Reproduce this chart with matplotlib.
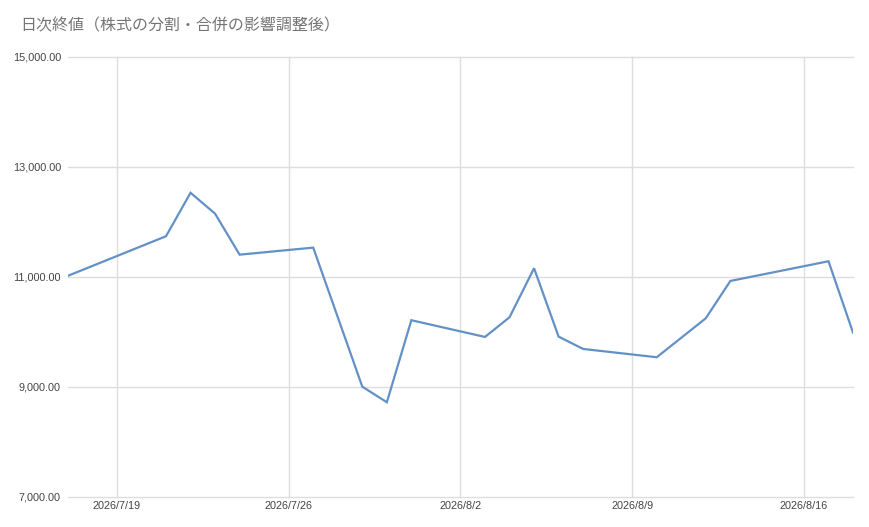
import datetime as dt
import matplotlib
matplotlib.use("Agg")
import matplotlib.pyplot as plt
import matplotlib.dates as mdates
from matplotlib.ticker import FuncFormatter

# データ
dates = ["2026-07-17", "2026-07-21", "2026-07-22", "2026-07-23", "2026-07-24",
         "2026-07-27", "2026-07-29", "2026-07-30", "2026-07-31",
         "2026-08-03", "2026-08-04", "2026-08-05", "2026-08-06", "2026-08-07",
         "2026-08-10", "2026-08-12", "2026-08-13", "2026-08-17", "2026-08-18"]
closes = [11020, 11740, 12530, 12150, 11405,
          11533, 9005, 8722, 10213,
          9909, 10267, 11158, 9915, 9691,
          9540, 10249, 10927, 11285, 9987]
tick_dates = ["2026-07-19", "2026-07-26", "2026-08-02", "2026-08-09", "2026-08-16"]
tick_labels = ["2026/7/19", "2026/7/26", "2026/8/2", "2026/8/9", "2026/8/16"]
y_ticks = [7000, 9000, 11000, 13000, 15000]
title = "日次終値（株式の分割・合併の影響調整後）"

x = [dt.datetime.strptime(d, "%Y-%m-%d") for d in dates]
xt = [dt.datetime.strptime(d, "%Y-%m-%d") for d in tick_dates]

plt.rcParams['font.family'] = ['Liberation Sans', 'Noto Sans CJK JP', 'DejaVu Sans']

fig = plt.figure(figsize=(8.7, 5.27), dpi=100)
ax = fig.add_axes([0.078, 0.057, 0.9025, 0.835])

ax.plot(x, closes, color='#6391c6', linewidth=1.6, solid_joinstyle='miter')

ax.set_xlim(x[0], x[-1])
ax.set_ylim(7000, 15000)
ax.set_yticks(y_ticks)
ax.yaxis.set_major_formatter(FuncFormatter(lambda v, p: f"{v:,.2f}"))
ax.set_xticks(xt)
ax.set_xticklabels(tick_labels)

ax.grid(True, color='#dddddd', linewidth=1.0)
ax.set_axisbelow(True)
for g in ax.get_ygridlines() + ax.get_xgridlines():
    g.set_clip_on(False)
for s in ax.spines.values():
    s.set_visible(False)
ax.tick_params(length=0, labelsize=7.8, colors='#444444')
ax.tick_params(axis='y', pad=5)
ax.tick_params(axis='x', pad=3)

fig.text(0.023, 0.95, title, fontsize=11.5, color='#757575',
         family=['Noto Sans CJK JP', 'DejaVu Sans'], va='center')

fig.savefig("out.png", dpi=100, facecolor='white')
